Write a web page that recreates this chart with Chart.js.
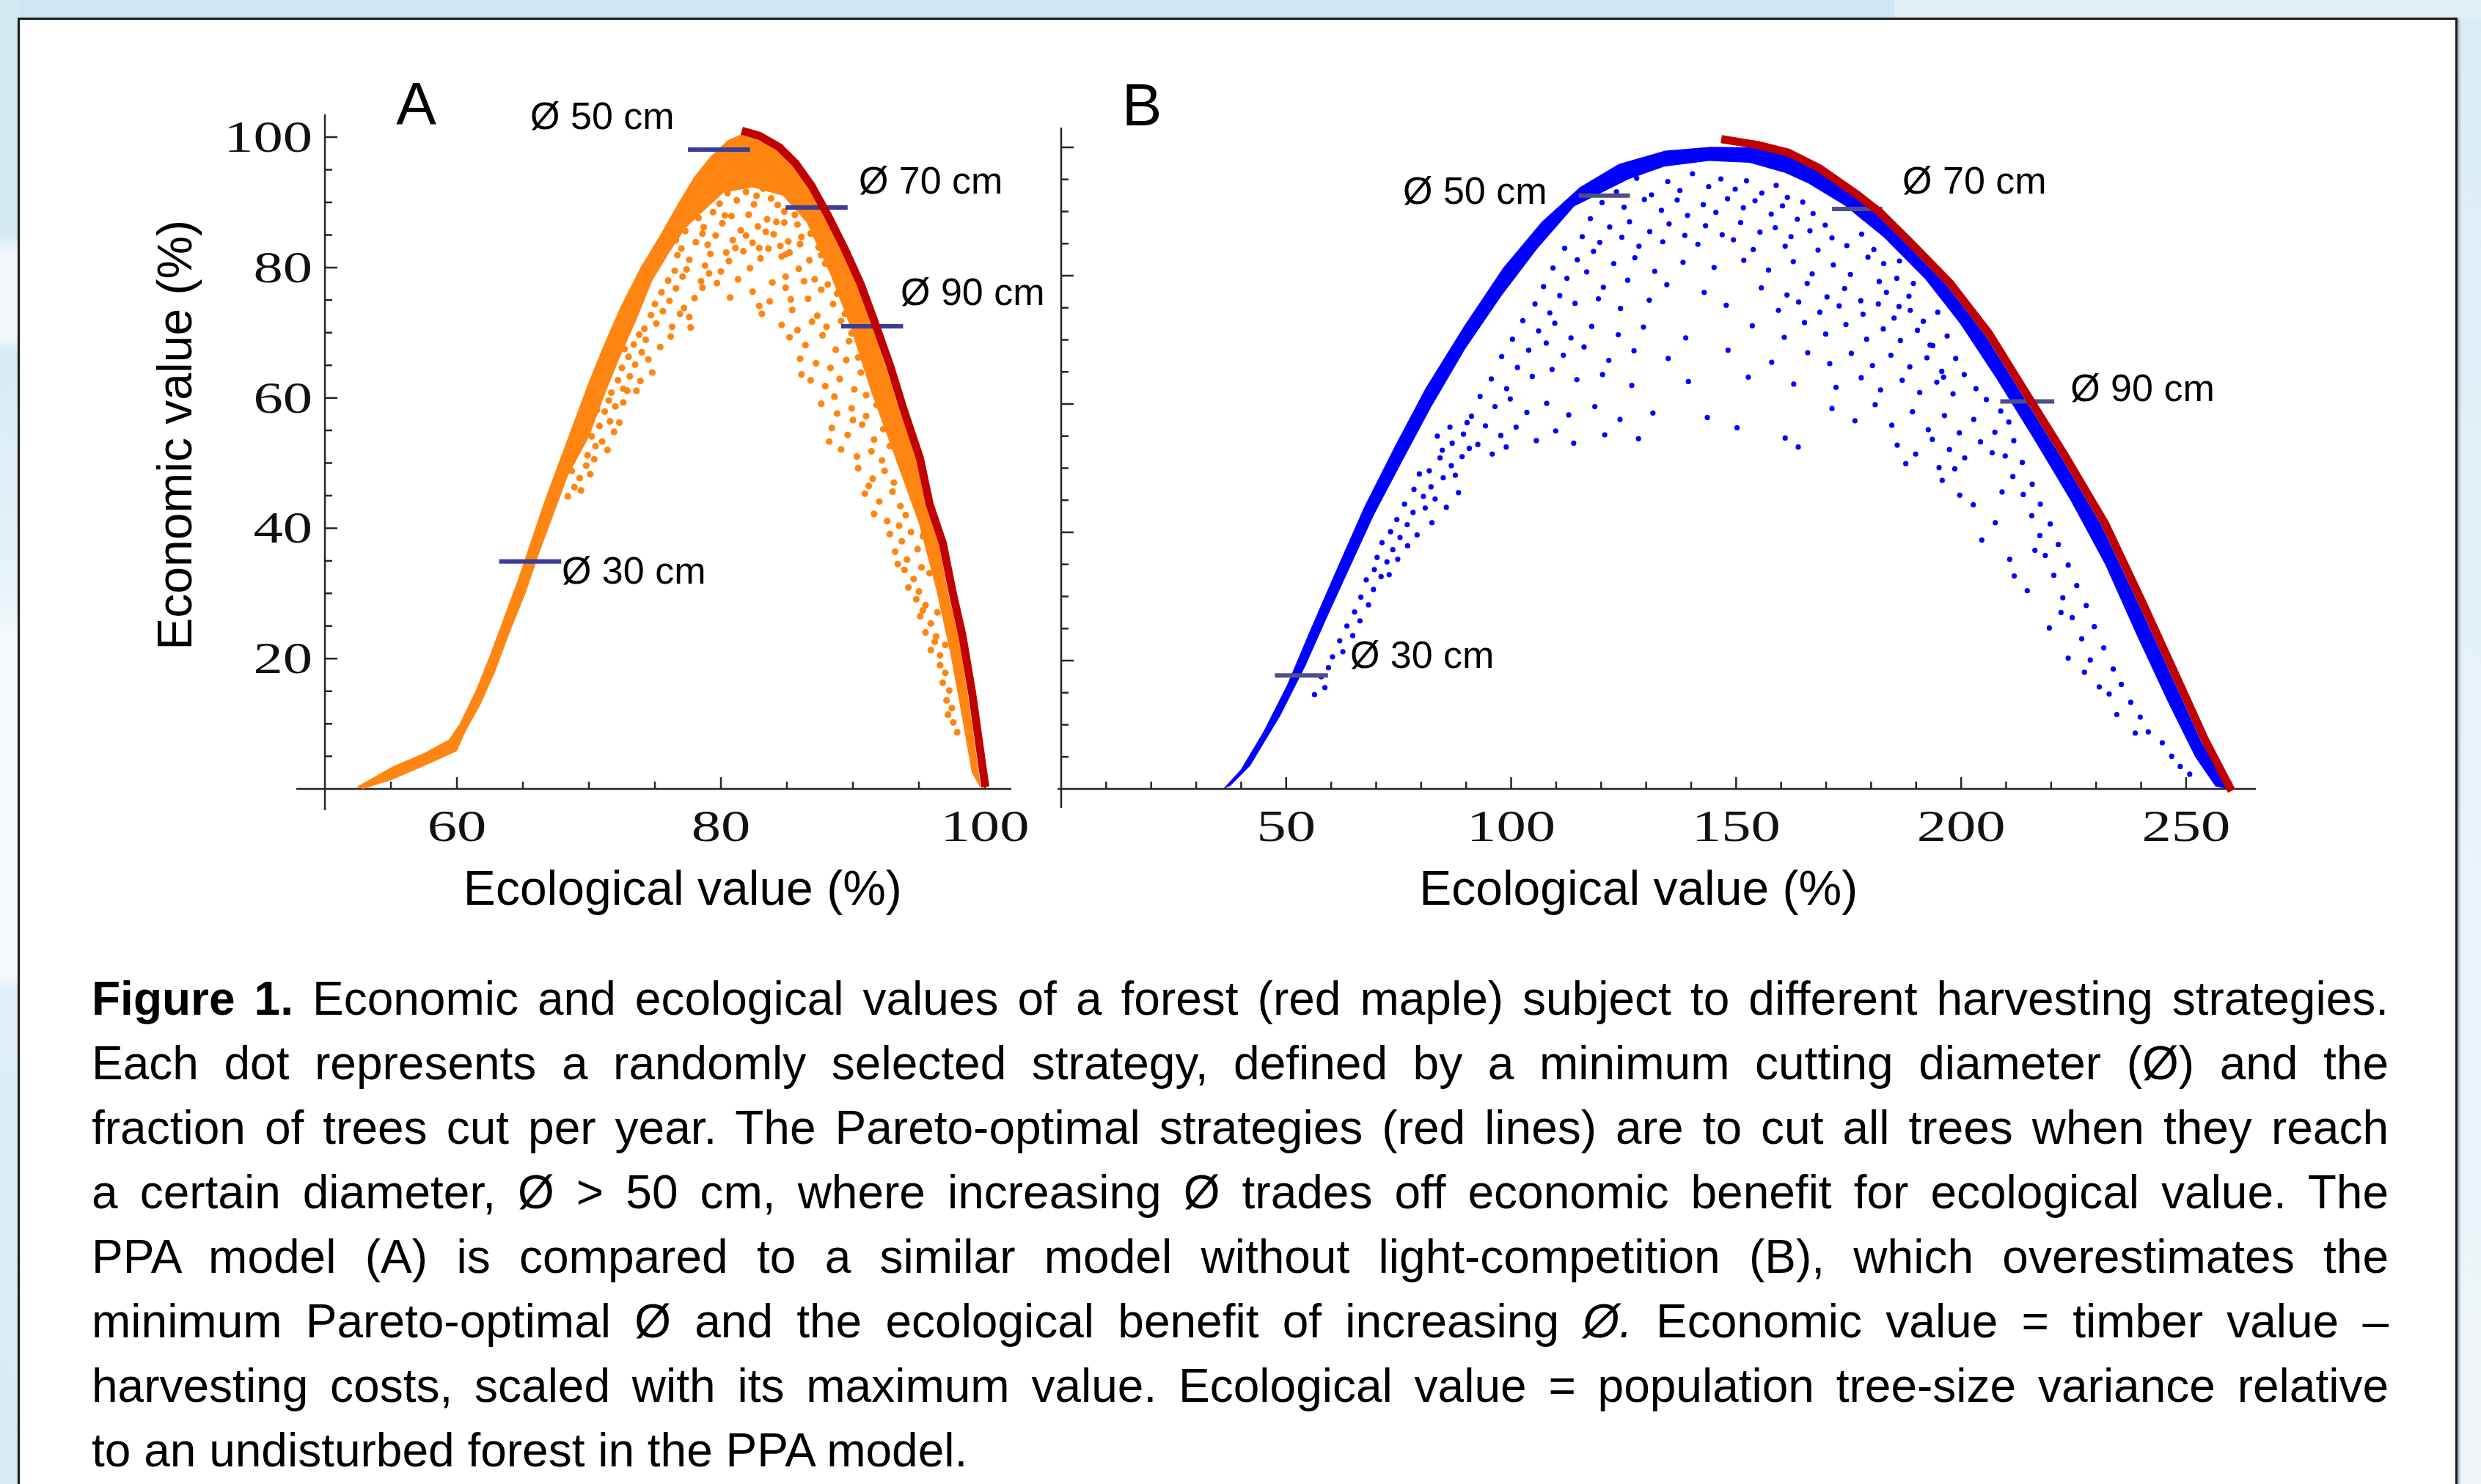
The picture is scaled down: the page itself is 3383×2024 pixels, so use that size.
<!DOCTYPE html>
<html>
<head>
<meta charset="utf-8">
<title>Figure 1 - harvesting strategies</title>
<script src="https://cdn.jsdelivr.net/npm/chart.js@4.4.1/dist/chart.umd.min.js"></script>
<style>
  html, body { margin: 0; padding: 0; }
  body {
    width: 3383px; height: 2024px; overflow: hidden; position: relative;
    background: linear-gradient(to right, #cfe7f2 0, #cfe7f2 2583px, #e1eef6 2583px);
    font-family: "Liberation Sans", Arial, sans-serif;
  }
  #leftEdge {
    position: absolute; left: 0; top: 0; width: 24px; height: 2024px;
    background: linear-gradient(to bottom, #d3e9f3 0, #d3e9f3 320px, #f2f8fb 345px, #f2f8fb 460px,
      #d6ebf5 480px, #e6f2f8 800px, #f7fbfd 880px, #f7fbfd 1330px, #ddeef6 1350px, #d8ebf5 2024px);
  }
  #rightEdge {
    position: absolute; left: 3354px; top: 24px; width: 29px; height: 2000px;
    background: linear-gradient(to bottom, #d9ecf5, #eaf3f9 60%, #f0f6fa);
  }
  #frame {
    position: absolute; left: 24px; top: 24px; width: 3321px; height: 2100px;
    background: #fff; border: 3px solid #1c1c1c;
    box-shadow: 2px 2px 4px rgba(0, 0, 0, 0.35);
  }
  canvas { position: absolute; top: 0; }
  #chartA { left: 0; }
  #chartB { left: 1420px; }
  #caption {
    position: absolute; left: 125px; top: 1318px; width: 3132px;
    font-size: 64px; line-height: 88px; color: #000;
  }
  #caption div { text-align: justify; text-align-last: justify; }
  #caption div.last { text-align-last: left; }
</style>
</head>
<body>
<div id="leftEdge"></div>
<div id="rightEdge"></div>
<div id="frame"></div>
<canvas id="chartA" width="1440" height="1280"></canvas>
<canvas id="chartB" width="1900" height="1280"></canvas>
<div id="caption">
  <div><b>Figure 1.</b> Economic and ecological values of a forest (red maple) subject to different harvesting strategies.</div>
  <div>Each dot represents a randomly selected strategy, defined by a minimum cutting diameter (Ø) and the</div>
  <div>fraction of trees cut per year. The Pareto-optimal strategies (red lines) are to cut all trees when they reach</div>
  <div>a certain diameter, Ø &gt; 50 cm, where increasing Ø trades off economic benefit for ecological value. The</div>
  <div>PPA model (A) is compared to a similar model without light-competition (B), which overestimates the</div>
  <div>minimum Pareto-optimal Ø and the ecological benefit of increasing <i>Ø.</i> Economic value = timber value –</div>
  <div>harvesting costs, scaled with its maximum value. Ecological value = population tree-size variance relative</div>
  <div class="last">to an undisturbed forest in the PPA model.</div>
</div>
<script>
// ---- data: [ecological %, economic %] ----

const diameters = ["Ø 30 cm", "Ø 50 cm", "Ø 70 cm", "Ø 90 cm"];

// Panel A (PPA model)
// outline of the solid part of the orange cloud (outer edge, then inner edge back)
const bandA = [
  [52.4, 0.3], [55.1, 3.4], [57.6, 5.6], [59.4, 7.6], [60.2, 10], [61.4, 15], [62.4, 20],
  [63.5, 26], [64.6, 32], [65.6, 38], [66.6, 44], [67.7, 50], [68.8, 56], [69.9, 62],
  [71.1, 68], [72.4, 74], [73.9, 80], [75.4, 85], [76.8, 90], [78.0, 94], [79.2, 97],
  [80.5, 99.5], [81.5, 100.4], [82.6, 100.2], [84.1, 98.5], [85.4, 96], [86.6, 92.5],
  [87.8, 87.9], [89.1, 82.9], [90.3, 77.4], [91.3, 71.9], [92.5, 64.8], [93.5, 58.3],
  [94.8, 50.8], [95.5, 43.7], [96.5, 37.7], [97.2, 30.2], [98.0, 23.6], [98.7, 14.6],
  [99.2, 7.5], [99.7, 0],
  [99.0, 2.5], [98.3, 10.6], [97.4, 20.6], [96.3, 30.7], [95.0, 40.7], [93.2, 50.8],
  [91.4, 60.8], [89.8, 70.9], [88.3, 78.9], [86.5, 86.9], [84.7, 91.0], [82.4, 92.3],
  [80.2, 91.5], [78.6, 88.5], [77.3, 86], [76.0, 82], [74.8, 78], [73.6, 72], [72.3, 66],
  [71.1, 60], [70.0, 54], [68.4, 48], [67.3, 42], [66.2, 36], [65.2, 30], [64.0, 24],
  [62.9, 18], [61.8, 13], [60.7, 9], [60.0, 5.8], [57.6, 3.6], [55.1, 1.4], [52.9, 0],
  [52.4, 0.3], [99.7, 0]
];

// loose orange dots inside the arch
const dotsA = [
  // right side
  [84.3, 89.6], [85.6, 88.1], [86.9, 86.4], [84.8, 86.9], [86.1, 84.7], [87.4, 83.1], [85.2, 82.3],
  [86.7, 81.1], [87.9, 80.6], [84.6, 81.7], [85.9, 79.8], [87.1, 78.2], [88.1, 77.4], [86.3, 77.9],
  [84.9, 78.6], [82.4, 76.3], [83.7, 74.8], [84.9, 76.9], [85.4, 73.5], [86.6, 75.2], [87.3, 72.6],
  [88.5, 74.4], [89.1, 71.8], [83.1, 72.9], [84.6, 71.2], [85.8, 70.4], [86.9, 71.7], [88.0, 70.9],
  [89.4, 72.9], [87.6, 76.6], [88.8, 76.0], [83.9, 77.7], [85.3, 75.1], [82.9, 74.1],
  [85.2, 69.3], [86.4, 68.1], [87.7, 69.6], [88.7, 67.4], [89.7, 68.7], [90.4, 66.2], [86.0, 66.0],
  [87.2, 65.3], [88.3, 64.6], [89.5, 65.8], [90.6, 63.9], [86.8, 62.7], [87.9, 61.8], [89.0, 62.9],
  [90.1, 61.3], [91.0, 60.4], [88.6, 60.2], [86.1, 63.6], [89.9, 69.9], [91.1, 64.9],
  [87.6, 59.1], [88.8, 57.6], [89.9, 58.4], [91.0, 57.2], [91.8, 58.9], [88.4, 55.4], [89.6, 54.3],
  [90.7, 55.9], [91.6, 53.6], [92.3, 55.2], [89.1, 52.1], [90.3, 51.0], [91.4, 51.8], [92.2, 50.4],
  [92.8, 52.6], [90.0, 56.6], [88.2, 53.3],
  [90.4, 49.2], [91.5, 47.6], [92.4, 48.8], [93.1, 47.0], [90.9, 45.3], [92.0, 44.1], [93.0, 45.6],
  [93.6, 43.4], [91.6, 42.2], [92.6, 41.1], [93.5, 40.4], [94.0, 42.0], [91.2, 46.5],
  [92.8, 39.1], [93.7, 38.0], [94.4, 39.4], [93.2, 36.4], [94.1, 35.2], [94.9, 36.8], [93.9, 33.6],
  [94.6, 32.2], [95.2, 34.0], [94.2, 30.9], [95.0, 30.3], [93.4, 34.5],
  [94.8, 29.1], [95.5, 28.2], [95.1, 26.5], [95.9, 25.4], [95.5, 24.0], [96.2, 22.6], [95.9, 21.3],
  [96.6, 20.5], [96.3, 23.4], [95.3, 27.4],
  [96.6, 19.0], [97.0, 17.8], [96.8, 16.3], [97.3, 15.1], [97.1, 13.6], [97.5, 12.4], [97.6, 10.2],
  [97.9, 8.7], [97.2, 11.4],
  [88.9, 79.1], [89.6, 75.4], [90.2, 70.3], [90.8, 68.0], [91.7, 62.2], [92.6, 57.3], [93.4, 53.4],
  [94.1, 48.9], [94.6, 44.6], [95.3, 38.8], [95.8, 33.1], [96.4, 27.1], [97.0, 22.1],
  // left side
  [68.4, 44.9], [68.9, 46.3], [69.3, 47.7], [68.7, 48.8], [69.8, 49.6], [69.4, 45.8], [70.1, 48.3],
  [69.9, 51.2], [70.5, 52.6], [70.2, 54.1], [71.0, 53.3], [70.8, 55.7], [71.6, 56.4], [71.2, 57.9],
  [72.0, 58.7], [71.5, 59.6], [70.6, 58.1], [72.3, 56.2], [71.9, 54.8], [70.4, 50.6],
  [71.7, 60.8], [72.6, 61.4], [72.2, 62.7], [73.1, 63.3], [72.5, 64.6], [73.5, 65.1], [73.0, 66.3],
  [74.0, 67.0], [73.4, 68.2], [74.3, 68.9], [73.8, 69.7], [72.9, 61.1], [73.9, 62.6], [74.5, 65.9],
  [72.7, 67.5],
  [74.2, 70.6], [75.1, 71.4], [74.7, 72.7], [75.6, 73.3], [75.0, 74.4], [76.1, 74.9], [75.5, 76.2],
  [76.6, 76.8], [76.0, 78.0], [77.1, 78.6], [76.5, 79.5], [77.6, 72.4], [76.3, 70.9], [78.0, 75.3],
  [77.2, 73.8], [78.5, 77.9],
  [71.4, 52.0], [72.6, 59.3], [73.6, 61.1], [74.8, 63.9], [75.4, 67.8], [76.2, 69.4], [77.7, 70.8],
  [76.9, 72.9],
  // centre, under the cap
  [78.6, 76.9], [80.7, 75.4], [79.7, 77.6], [81.3, 78.2], [80.0, 79.4], [82.2, 79.9], [78.8, 80.3],
  [77.6, 81.2], [79.2, 82.1], [80.6, 81.0], [81.7, 82.5], [83.0, 81.4], [83.6, 82.9], [82.4, 83.8],
  [80.9, 84.2], [79.6, 84.9], [78.1, 83.9], [77.3, 85.6], [78.7, 86.2], [80.1, 86.8], [81.5, 85.7],
  [82.8, 86.3], [84.0, 85.1], [85.1, 84.0], [83.5, 87.4], [82.1, 88.1], [80.8, 87.9], [79.4, 88.5],
  [78.3, 87.6], [79.9, 89.8], [81.2, 90.3], [82.5, 89.7], [83.8, 90.6], [84.8, 88.6], [80.5, 91.4],
  [81.9, 91.6], [83.2, 92.1], [84.3, 91.8], [85.5, 90.4], [78.9, 90.9], [77.9, 89.2], [86.3, 88.9],
  [85.8, 86.6], [84.5, 83.3], [81.1, 83.0], [79.1, 79.1], [77.0, 82.9], [76.6, 84.2], [77.8, 87.7],
  [79.0, 83.5], [80.4, 82.3], [82.9, 83.0], [84.9, 82.0], [81.9, 84.9], [83.4, 85.5], [80.3, 88.0],
  [82.7, 91.0], [84.2, 87.0], [78.6, 85.2], [77.4, 79.7], [76.7, 81.9], [86.8, 85.2], [86.0, 83.6],
  [87.6, 81.9]
];

// Pareto front (red) for panel A
const paretoA = [
  [81.58, 101.0], [82.92, 100.2], [84.40, 98.5], [85.65, 96.0], [86.88, 92.5], [88.13, 87.9],
  [89.37, 82.9], [90.60, 77.4], [91.60, 71.9], [92.84, 64.8], [93.83, 58.3], [95.07, 50.8],
  [95.81, 43.7], [96.81, 37.7], [97.55, 30.2], [98.29, 23.6], [99.04, 14.6], [99.53, 7.5],
  [100.03, 0.3]
];

// diameter marks for panel A: economic % and ecological span
const markY_A = [34.9, 98.1, 89.2, 71.0];
const markX_A = [[63.2, 67.9], [77.5, 82.2], [84.9, 89.6], [89.1, 93.8]];

// Panel B (no light competition)
const bandB = [
  [36.0, 0], [39.9, 3.0], [45.0, 9.0], [50.2, 16.2], [55.3, 24.7], [60.5, 33.1], [67.3, 43.9],
  [74.2, 53.5], [81.0, 62.5], [89.6, 72.2], [98.2, 81.2], [106.8, 88.4], [115.3, 93.8],
  [123.9, 97.4], [134.2, 99.5], [144.4, 100.1],
  [154.0, 100.0], [160.8, 98.9], [167.6, 96.5], [176.2, 92.3], [181.3, 89.5], [188.2, 84.7],
  [196.8, 78.5], [205.4, 70.7], [213.9, 61.1], [222.5, 51.4], [231.1, 41.2], [239.6, 28.6],
  [248.2, 15.4], [253.3, 7.5], [259.3, 0],
  [256.5, 0.4], [252.0, 5], [246.0, 13.5], [239.0, 24], [232.0, 35], [224.3, 45], [216.2, 54.5],
  [207.8, 64], [199.8, 72.5], [192.0, 79.5], [182.8, 86], [174.0, 91], [166, 94.4],
  [161, 96.0], [153, 97.6], [144, 97.9], [134, 97.0], [126, 95.0],
  [114, 90.8], [105.8, 84.2], [98.0, 77], [89.8, 68.6], [82.2, 59.5], [75.8, 51.1], [69.5, 42.7],
  [64.0, 34.3], [59.3, 27.1], [54.3, 19.2], [48.7, 11.4], [42.0, 3.6], [37.6, 0.5],
  [36.0, 0], [259.3, 0]
];

// loose blue dots inside the arch
const dotsB = [
  // under the cap
  [123.4, 93.1], [127.9, 95.2], [131.2, 92.6], [134.8, 94.7], [137.5, 93.3], [140.3, 95.9], [143.9, 93.9],
  [146.6, 95.1], [149.8, 93.5], [152.3, 94.8], [155.7, 92.9], [158.9, 94.1], [161.4, 92.2], [164.8, 91.5],
  [120.2, 91.4], [125.1, 90.7], [129.6, 91.9], [133.4, 90.2], [136.9, 91.8], [139.2, 89.4], [142.7, 91.1],
  [145.5, 89.9], [148.1, 92.0], [151.6, 90.6], [154.2, 91.7], [157.8, 89.6], [160.3, 90.9], [163.6, 88.8],
  [167.1, 89.7], [169.8, 87.9], [117.6, 88.9], [121.9, 87.6], [126.3, 88.4], [130.8, 86.9], [135.1, 88.1],
  [138.6, 86.3], [143.2, 87.8], [146.9, 86.4], [151.0, 88.3], [155.3, 86.8], [158.7, 87.5], [162.2, 86.1],
  [166.4, 87.0], [171.3, 85.9], [174.6, 84.7], [115.8, 86.1], [119.7, 85.2], [124.6, 86.0], [128.4, 84.6],
  [133.7, 85.3], [141.5, 84.9], [149.4, 85.6], [153.8, 84.1], [160.9, 84.6], [168.2, 84.0],
  // upper middle
  [111.9, 84.3], [114.7, 82.5], [118.3, 83.8], [122.8, 81.9], [127.5, 82.8], [131.9, 80.7], [138.2, 82.1],
  [145.1, 81.3], [151.7, 82.4], [157.2, 80.9], [162.7, 82.2], [166.9, 80.3], [171.6, 81.7], [175.4, 80.2],
  [179.3, 82.9], [181.8, 79.1], [109.3, 81.2], [112.4, 79.6], [116.8, 80.6], [120.5, 78.2], [125.9, 79.3],
  [134.6, 78.6], [142.9, 77.4], [155.6, 78.1], [161.3, 77.0], [165.8, 78.8], [170.2, 76.7], [174.1, 78.0],
  [177.7, 76.1], [183.4, 77.4], [186.2, 75.2], [107.2, 78.3], [110.8, 76.9], [114.2, 75.7], [119.4, 76.4],
  [124.3, 74.9], [130.7, 76.2], [147.8, 75.4], [159.4, 74.6], [163.9, 75.9], [168.6, 74.3], [172.9, 75.3],
  [178.2, 74.0], [181.6, 75.6], [185.1, 73.4], [188.7, 74.6], [105.3, 75.6], [108.6, 74.2],
  // middle
  [102.6, 73.0], [106.1, 71.4], [109.7, 72.6], [113.3, 70.3], [117.9, 72.1], [123.8, 70.8], [129.4, 72.0],
  [138.8, 70.3], [153.6, 72.2], [160.7, 70.4], [165.2, 72.7], [169.9, 70.9], [174.4, 72.4], [179.0, 70.1],
  [182.7, 71.7], [186.5, 69.9], [190.3, 71.5], [193.1, 69.2], [100.3, 70.1], [103.9, 68.4], [107.8, 69.5],
  [111.6, 67.6], [116.2, 68.9], [121.7, 66.8], [127.3, 68.3], [134.9, 67.1], [148.2, 68.4], [157.9, 66.5],
  [165.9, 68.0], [170.8, 66.3], [175.6, 67.9], [180.3, 66.0], [184.4, 67.6], [188.6, 65.8], [192.4, 67.2],
  [195.7, 65.1], [97.9, 67.4], [101.4, 65.7], [104.7, 64.3], [109.1, 65.4], [114.6, 63.8], [120.3, 64.6],
  [126.8, 62.9], [139.4, 63.5], [152.7, 64.2], [162.8, 63.1], [172.2, 62.6], [177.8, 64.1], [182.1, 62.2],
  [186.9, 63.7], [190.8, 61.8], [194.6, 63.4], [198.2, 61.6], [95.6, 63.9], [99.0, 62.4],
  // lower middle
  [93.1, 61.2], [96.4, 59.6], [99.8, 60.8], [103.5, 58.7], [107.9, 60.1], [112.8, 58.3], [118.6, 59.6],
  [124.2, 57.6], [131.5, 58.6], [143.6, 57.9], [150.2, 56.3], [160.9, 54.7], [163.8, 53.3], [171.3, 59.3],
  [176.4, 57.4], [180.9, 59.9], [184.6, 56.7], [189.2, 58.8], [192.7, 56.0], [196.3, 58.2], [199.6, 55.5],
  [202.8, 57.6], [91.2, 58.1], [94.3, 56.6], [97.7, 55.1], [101.1, 56.4], [105.6, 54.3], [109.9, 55.8],
  [185.8, 53.6], [189.9, 52.2], [193.6, 54.5], [197.4, 52.9], [200.8, 51.6], [204.3, 54.1], [206.9, 52.4],
  [89.4, 55.3], [92.6, 53.7], [95.8, 52.2], [98.9, 53.3], [187.7, 50.7], [195.1, 50.1], [83.6, 55.0],
  [86.4, 56.4], [90.2, 57.1], [84.7, 52.8], [113.9, 53.9], [120.8, 55.2], [128.3, 54.6],
  // left side, next to the band
  [86.9, 53.9], [84.2, 51.6], [86.7, 50.4], [89.1, 51.8], [81.8, 49.6], [84.9, 48.5], [87.6, 48.9],
  [79.6, 49.1], [82.2, 47.1], [78.4, 46.7], [80.5, 45.6], [83.1, 45.2], [76.3, 44.4], [78.2, 43.1],
  [80.9, 43.8], [74.6, 42.0], [76.9, 41.2], [73.2, 40.1], [75.3, 39.2], [71.3, 38.4], [73.7, 37.3],
  [70.2, 36.1], [72.4, 35.4], [69.6, 34.2], [71.1, 33.1], [67.8, 32.6], [69.4, 31.1], [66.6, 29.9],
  [68.3, 28.7], [65.2, 27.6], [66.4, 26.2], [63.5, 25.4], [64.8, 23.9], [61.9, 23.1], [62.6, 21.4],
  [60.3, 20.6], [59.4, 18.9], [57.8, 17.5], [58.6, 15.8], [56.3, 14.7], [90.7, 53.1], [88.3, 46.2],
  [85.6, 43.9], [82.4, 41.5], [79.1, 39.6], [77.0, 37.9], [74.8, 35.8], [72.9, 33.4],
  // right side, next to the band
  [177.9, 86.5], [180.6, 84.1], [182.8, 81.9], [186.3, 82.3], [185.7, 79.6], [189.4, 78.8], [188.4, 76.8],
  [191.6, 72.9], [194.8, 74.3], [193.7, 69.1], [196.9, 70.6], [196.1, 64.2], [198.8, 67.1], [200.7, 64.6],
  [203.3, 62.4], [205.6, 60.7], [208.8, 58.9], [210.6, 57.2], [207.5, 55.6], [211.7, 54.3], [209.8, 51.9],
  [213.6, 50.9], [211.5, 48.7], [215.8, 47.5], [213.8, 45.9], [217.6, 44.4], [215.7, 42.6], [219.8, 41.3],
  [217.5, 39.5], [221.6, 38.1], [218.7, 36.4], [223.8, 34.9], [220.6, 33.3], [225.7, 31.7], [222.6, 29.8],
  [227.8, 28.6], [224.7, 26.7], [229.6, 25.3], [226.8, 23.4], [231.7, 22.0], [228.7, 20.1], [233.8, 18.7],
  [235.6, 16.3], [232.9, 14.8], [237.7, 13.5], [239.8, 11.2], [241.6, 8.9], [244.7, 7.2], [246.8, 5.1],
  [248.7, 3.5], [250.8, 2.3],
  // right side, sparse
  [202.7, 44.3], [207.6, 41.5], [210.8, 35.8], [214.7, 30.9], [219.6, 25.1], [223.8, 20.4], [230.7, 15.9],
  [234.6, 11.6], [238.7, 8.7], [195.8, 48.1], [199.7, 45.8], [204.6, 38.8], [211.8, 33.2], [198.6, 49.9],
  [209.1, 46.3], [216.4, 37.2], [222.2, 27.5], [227.4, 18.2]
];

const paretoB = [
  [146.7, 101.3], [154.7, 100.4], [161.6, 99.2], [168.4, 96.8], [177.0, 92.6], [182.1, 89.8],
  [189.0, 85.0], [197.6, 78.8], [206.2, 71.0], [214.7, 61.4], [223.3, 51.7], [231.9, 41.5],
  [240.4, 28.9], [249.0, 15.7], [254.1, 7.8], [260.1, -0.3]
];

const markY_B = [17.7, 92.5, 90.4, 60.4];
const markX_B = [[47.5, 59.3], [115.0, 126.4], [171.3, 182.5], [208.7, 220.7]];

// tick labels
const xTicksA = [60, 80, 100];
const yTicksA = [20, 40, 60, 80, 100];
const xTicksB = [50, 100, 150, 200, 250];
const yTicksB = [20, 40, 60, 80, 100];

// ---- helpers ----
const toXY = pts => pts.map(([x, y]) => ({x, y}));
const minorTicks = (from, to, step, majors) => {
  const out = [];
  for (let v = from; v <= to + 1e-9; v += step) if (!majors.includes(v)) out.push(v);
  return out;
};

// Mathematica-like axes: crossing lines with ticks pointing inwards
const mathAxes = {
  id: "mathAxes",
  beforeDatasetsDraw(chart, args, o) {
    const {ctx, chartArea: a} = chart;
    const sx = chart.scales.x, sy = chart.scales.y;
    const ax = sx.getPixelForValue(o.yAxisAt);
    const ay = sy.getPixelForValue(0);
    ctx.save();
    ctx.strokeStyle = "#262626";
    ctx.lineWidth = 2.5;
    ctx.beginPath();
    ctx.moveTo(a.left, ay); ctx.lineTo(a.right, ay);
    ctx.moveTo(ax, a.top); ctx.lineTo(ax, a.bottom);
    o.xMinor.forEach(v => { const p = sx.getPixelForValue(v); ctx.moveTo(p, ay); ctx.lineTo(p, ay - 10); });
    o.xMajor.forEach(v => { const p = sx.getPixelForValue(v); ctx.moveTo(p, ay); ctx.lineTo(p, ay - 16); });
    o.yMinor.forEach(v => { const p = sy.getPixelForValue(v); ctx.moveTo(ax, p); ctx.lineTo(ax + 10, p); });
    o.yMajor.forEach(v => { const p = sy.getPixelForValue(v); ctx.moveTo(ax, p); ctx.lineTo(ax + 17, p); });
    ctx.stroke();

    // tick labels (wide Times-like digits)
    ctx.fillStyle = "#111";
    ctx.font = '62px "Liberation Serif", "Times New Roman", serif';
    ctx.textBaseline = "alphabetic";
    const put = (txt, x, y, align) => {
      ctx.save(); ctx.translate(x, y); ctx.scale(1.3, 1);
      ctx.textAlign = align; ctx.fillText(txt, 0, 0); ctx.restore();
    };
    o.xLabels.forEach(v => put(String(v), sx.getPixelForValue(v), ay + 71, "center"));
    o.yLabels.forEach(v => put(String(v), ax - 17, sy.getPixelForValue(v) + 20, "right"));
    ctx.restore();
  }
};

// panel letter, diameter notes and axis titles
const figText = {
  id: "figText",
  afterDraw(chart, args, o) {
    const {ctx} = chart;
    const sx = chart.scales.x, sy = chart.scales.y;
    const px = v => sx.getPixelForValue(v), py = v => sy.getPixelForValue(v);
    ctx.save();
    ctx.fillStyle = "#000";
    ctx.textBaseline = "alphabetic";
    ctx.textAlign = "left";
    ctx.font = '82px "Liberation Sans", Arial, sans-serif';
    ctx.fillText(o.panel, px(o.panelAt[0]), py(o.panelAt[1]));
    ctx.font = '52px "Liberation Sans", Arial, sans-serif';
    diameters.forEach((t, i) => ctx.fillText(t, px(o.notesAt[i][0]), py(o.notesAt[i][1])));
    ctx.font = '66px "Liberation Sans", Arial, sans-serif';
    ctx.textAlign = "center";
    ctx.fillText("Ecological value (%)", px(o.xTitleAt), py(0) + 158);
    if (o.yTitle) {
      ctx.translate(px(o.yAxisAt) - 182, py(o.yTitleAt));
      ctx.rotate(-Math.PI / 2);
      ctx.fillText(o.yTitle, 0, 0);
    }
    ctx.restore();
  }
};

function panel(canvasId, cfg) {
  const markers = cfg.markY.map((y, i) => ({
    type: "line",
    data: toXY([[cfg.markX[i][0], y], [cfg.markX[i][1], y]]),
    borderColor: cfg.markColor, borderWidth: 6, pointRadius: 0, order: 1
  }));
  return new Chart(document.getElementById(canvasId), {
    type: "scatter",
    data: {
      datasets: [
        { type: "line", data: toXY(cfg.pareto), borderColor: "#c00000", borderWidth: 11,
          borderJoinStyle: "round", pointRadius: 0, tension: 0, fill: false, order: 0 },
        ...markers,
        { data: toXY(cfg.dots), backgroundColor: cfg.color, pointRadius: cfg.dotR,
          pointBorderWidth: 0, order: 2 },
        { type: "line", data: toXY(cfg.band), fill: "shape", backgroundColor: cfg.color,
          borderWidth: 0, pointRadius: 0, tension: 0, order: 3 }
      ]
    },
    options: {
      responsive: false,
      animation: false,
      devicePixelRatio: 1,
      events: [],
      layout: { padding: cfg.padding },
      scales: {
        x: { type: "linear", min: cfg.xRange[0], max: cfg.xRange[1], display: false },
        y: { type: "linear", min: cfg.yRange[0], max: cfg.yRange[1], display: false }
      },
      plugins: {
        legend: { display: false },
        tooltip: { enabled: false },
        mathAxes: cfg.axes,
        figText: cfg.text
      }
    },
    plugins: [mathAxes, figText]
  });
}

panel("chartA", {
  band: bandA, dots: dotsA, pareto: paretoA,
  markY: markY_A, markX: markX_A, markColor: "#3c3c99",
  color: "#ff8512", dotR: 4.6,
  padding: { left: 404, right: 61, top: 156, bottom: 175 },
  xRange: [47.83, 102.0], yRange: [-3.26, 103.5],
  axes: {
    yAxisAt: 50,
    xMajor: xTicksA, xMinor: minorTicks(55, 100, 5, xTicksA),
    yMajor: yTicksA, yMinor: minorTicks(5, 100, 5, yTicksA),
    xLabels: xTicksA, yLabels: yTicksA
  },
  text: {
    panel: "A", panelAt: [55.4, 102.0],
    notesAt: [[67.94, 31.5], [65.56, 101.2], [90.44, 91.3], [93.61, 74.3]],
    xTitleAt: 77.1, yAxisAt: 50, yTitle: "Economic value (%)", yTitleAt: 54.3
  }
});

panel("chartB", {
  band: bandB, dots: dotsB, pareto: paretoB,
  markY: markY_B, markX: markX_B, markColor: "#4f4f88",
  color: "#0000ff", dotR: 3.6,
  padding: { left: 22, right: 244, top: 174, bottom: 178 },
  xRange: [-0.81, 265.5], yRange: [-2.97, 103.1],
  axes: {
    yAxisAt: 0,
    xMajor: xTicksB, xMinor: minorTicks(10, 260, 10, xTicksB),
    yMajor: yTicksB, yMinor: minorTicks(5, 100, 5, yTicksB),
    xLabels: xTicksB, yLabels: []
  },
  text: {
    panel: "B", panelAt: [13.5, 103.4],
    notesAt: [[64.2, 18.9], [75.96, 91.2], [186.96, 92.8], [224.3, 60.5]],
    xTitleAt: 128.3, yAxisAt: 0, yTitle: null, yTitleAt: 0
  }
});
</script>
</body>
</html>
